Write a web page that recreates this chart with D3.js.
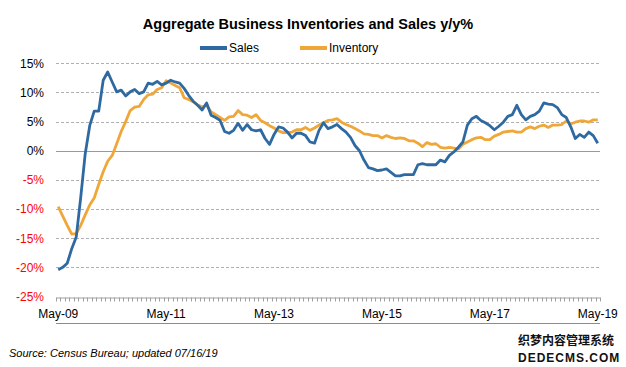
<!DOCTYPE html>
<html><head><meta charset="utf-8">
<script src="https://cdn.jsdelivr.net/npm/d3@7"></script>
<style>body{margin:0;background:#fff}svg{display:block}</style>
</head><body>
<svg id="c" width="626" height="367"></svg>
<script>
const title = "Aggregate Business Inventories and Sales y/y%";
const seriesNames = ["Sales", "Inventory"];
const sales = [-20.4,-20.0,-19.3,-16.8,-14.8,-8.0,-0.5,4.3,6.8,6.8,
12.1,13.5,11.8,10.1,10.4,9.4,10.1,10.5,9.8,10.1,
11.6,11.4,11.9,11.3,11.6,12.1,11.8,11.6,10.7,9.5,
8.5,7.8,7.0,8.2,6.1,5.7,5.2,3.3,3.0,3.5,
4.7,3.5,4.5,3.6,3.4,3.6,2.1,1.1,2.8,4.1,
3.9,3.2,2.2,3.0,3.0,2.6,1.5,1.3,3.5,4.8,
3.8,4.1,4.5,3.8,3.2,2.3,0.9,0.0,-1.6,-2.9,
-3.1,-3.4,-3.3,-3.1,-3.7,-4.3,-4.3,-4.1,-4.1,-4.1,
-2.4,-2.2,-2.4,-2.4,-2.4,-1.6,-1.9,-0.8,-0.2,0.6,
1.5,4.4,5.5,5.9,5.2,4.8,4.3,3.6,4.2,4.9,
5.9,6.2,7.8,6.2,5.3,5.9,6.2,6.8,8.2,8.0,
7.9,7.4,6.2,5.7,4.1,2.1,2.8,2.3,3.2,2.6,
1.3];
const inventory = [-9.6,-11.2,-12.8,-14.3,-14.2,-12.8,-11.0,-9.3,-8.1,-5.8,
-3.6,-1.8,-0.8,1.2,3.3,5.0,6.9,7.5,7.6,8.8,
9.6,9.7,10.5,10.8,12.0,11.6,11.2,10.8,9.1,8.8,
8.4,7.9,7.5,7.8,6.7,6.2,5.7,5.2,5.8,5.9,
6.9,6.2,6.1,5.7,6.2,5.2,4.8,4.3,3.9,3.4,
3.1,3.1,3.2,3.6,3.6,4.0,3.5,3.9,4.4,4.8,
5.2,5.3,5.5,4.9,4.5,4.2,3.8,3.4,2.9,2.8,
2.6,2.6,2.2,2.6,2.3,2.1,2.2,2.1,1.7,1.7,
1.3,0.7,1.4,1.1,1.2,0.6,0.45,0.6,0.45,0.3,
1.1,1.5,1.9,2.2,2.3,1.9,1.9,2.5,2.8,3.2,
3.3,3.4,3.2,3.2,3.8,4.1,3.8,4.2,4.4,4.0,
4.4,4.4,4.5,5.1,4.6,4.9,5.1,5.1,4.9,5.3,
5.3];
const fmt = d3.timeFormat("%b-%y");
const months = d3.timeMonth.range(new Date(2009,4,1), new Date(2019,5,1)).map(fmt);
const xTickLabels = ["May-09","May-11","May-13","May-15","May-17","May-19"];
const yTicks = [15,10,5,0,-5,-10,-15,-20,-25];
const source = "Source: Census Bureau; updated 07/16/19";

const svg = d3.select("#c");
const font = "'Liberation Sans', Arial, sans-serif";
const colors = {Sales:"#2e6aa1", Inventory:"#f0a73a"};

const x = d3.scaleBand().domain(months).range([56, 600]).padding(0);
const y = d3.scaleLinear().domain([-25, 15]).range([296.5, 63.3]);
const xc = m => x(m) + x.bandwidth()/2;

// grid
svg.append("g").selectAll("line").data(yTicks.filter(v => v > -25)).join("line")
  .attr("x1", 56).attr("x2", 600)
  .attr("y1", d => Math.round(y(d)) + 0.5).attr("y2", d => Math.round(y(d)) + 0.5)
  .attr("stroke", d => d === 0 ? "#9a9a9a" : "#b0b0b0")
  .attr("stroke-dasharray", d => d === 0 ? null : "3,2")
  .attr("stroke-width", 1);

// y labels
svg.append("g").selectAll("text").data(yTicks).join("text")
  .attr("x", 44).attr("y", d => y(d)).attr("dy", "0.36em")
  .attr("text-anchor", "end")
  .style("font", `12px ${font}`)
  .attr("fill", d => d < 0 ? "#ff0000" : "#000")
  .text(d => d + "%");

// bottom category axis
const axisY = Math.round(y(-25)) + 0.5;
const xAxis = d3.axisBottom(x).tickValues([]).tickSizeOuter(0);
const ax = svg.append("g").attr("transform", `translate(0,${axisY})`).call(xAxis);
ax.select(".domain").attr("stroke", "#a0a0a0");
ax.append("g").selectAll("line").data(months.concat(["__end"])).join("line")
  .attr("x1", (d,i) => Math.round(56 + i * x.bandwidth()) + 0.5)
  .attr("x2", (d,i) => Math.round(56 + i * x.bandwidth()) + 0.5)
  .attr("y1", 0).attr("y2", 4)
  .attr("stroke", "#a0a0a0");

svg.append("g").selectAll("text").data(xTickLabels).join("text")
  .attr("x", d => xc(d)).attr("y", 318)
  .attr("text-anchor", "middle")
  .style("font", `12px ${font}`).attr("fill", "#000")
  .text(d => d);

svg.append("line").attr("x1", 56).attr("x2", 600).attr("y1", 323.5).attr("y2", 323.5)
  .attr("stroke", "#8c8c8c");

// lines
const line = d3.line().x((d,i) => xc(months[i])).y(d => y(d));
[["Inventory", inventory], ["Sales", sales]].forEach(([name, vals]) => {
  svg.append("path").datum(vals).attr("d", line)
    .attr("fill", "none").attr("stroke", colors[name])
    .attr("stroke-width", 2.8).attr("stroke-linejoin", "round");
});

// title
svg.append("text").attr("x", 308).attr("y", 29).attr("text-anchor", "middle")
  .style("font", `bold 14.5px ${font}`).attr("fill", "#000").text(title);

// legend
const lg = svg.append("g");
[["Sales", 200], ["Inventory", 300]].forEach(([name, lx]) => {
  lg.append("line").attr("x1", lx).attr("x2", lx + 27).attr("y1", 48).attr("y2", 48)
    .attr("stroke", colors[name]).attr("stroke-width", 4);
  lg.append("text").attr("x", lx + 29).attr("y", 52)
    .style("font", `12px ${font}`).attr("fill", "#000").text(name);
});

// source
svg.append("text").attr("x", 9).attr("y", 357)
  .style("font", `italic 11px ${font}`).attr("fill", "#000").text(source);

// watermark
svg.append("text").attr("x", 518).attr("y", 345)
  .style("font", "bold 12px 'Noto Sans CJK SC', sans-serif").attr("fill", "#111")
  .text("织梦内容管理系统");
svg.append("text").attr("x", 518).attr("y", 362)
  .style("font", `bold 12px ${font}`).attr("letter-spacing", "1px").attr("fill", "#111")
  .text("DEDECMS.COM");
</script>
</body></html>
